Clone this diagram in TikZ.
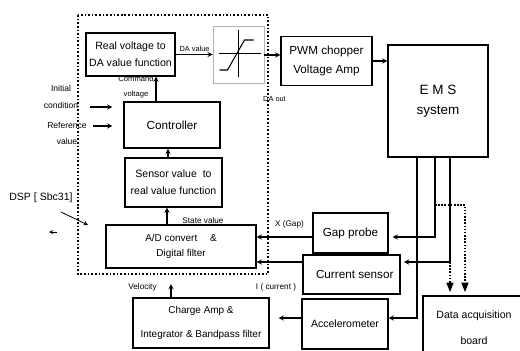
\documentclass[tikz,border=0pt]{standalone}
\usepackage{fontspec}
\setmainfont{Liberation Sans}
\usetikzlibrary{arrows.meta}

\begin{document}
\begin{tikzpicture}[
      x=0.03cm,
      y=-0.03cm,
      >=stealth,
      every node/.style={font=\fontsize{9}{14.5}\selectfont},
      blk/.style={draw, line width=1.1pt, align=center, inner sep=0pt},
      lbl/.style={font=\fontsize{7}{12}\selectfont, inner sep=0pt, align=center},
      link/.style={->, line width=1pt},
      dspline/.style={line width=1.6pt, dash pattern=on 1.4pt off 1.7pt},
      tap/.style={line width=1.1pt, dash pattern=on 1.3pt off 1.4pt,
                  -{Triangle[width=6pt,length=8pt]}, shorten >=0.1cm}
    ]

    % --- 0. 画面の範囲 (520 x 350 px, 1 px = 0.03 cm) ---
    \useasboundingbox (0,0) rectangle (520,350);
    \clip (0,0) rectangle (520,350);

    % EMS から下へ出る線の x 位置
    \def\xAcc{417}
    \def\xGap{435}
    \def\xCur{450}

    % --- 1. DSP 内部のブロック ---
    \node[blk, minimum width=2.67cm, minimum height=1.29cm] (rv) at (130.5,54.5) {Real voltage to\\DA value function};
    \node[draw=gray!60, line width=0.5pt, minimum width=1.53cm, minimum height=1.71cm, inner sep=0pt] (sat) at (238.5,55) {};
    \node[blk, minimum width=2.88cm, minimum height=1.38cm, font=\fontsize{10}{12}\selectfont] (ctrl) at (172,125) {Controller};
    \node[blk, minimum width=2.91cm, minimum height=1.47cm] (sens) at (173.5,182.5) {Sensor value\ \ to\\real value function};
    \node[blk, minimum width=4.5cm, minimum height=1.29cm, font=\fontsize{8.5}{13.5}\selectfont] (adc) at (181,246.5)
      {A/D convert\quad\ \&\\Digital filter};

    % 飽和特性 (DA)
    \begin{scope}[shift={(sat.center)}]
      \draw[line width=0.8pt] (-20,-2) -- (22,-2);
      \draw[line width=0.5pt] (-0.5,-25) -- (-0.5,22);
      \draw[line width=0.9pt] (-19,15) -- (-11,15) -- (6,-15) -- (15,-15);
    \end{scope}

    % DSP の境界
    \draw[dspline] (78,15) rectangle (268,274);
    \node[font=\fontsize{9}{11}\selectfont] (dsp) at (41,198) {DSP [ Sbc31]};

    % --- 2. 外部のブロック ---
    \node[blk, minimum width=2.73cm, minimum height=1.47cm, font=\fontsize{10}{17}\selectfont] (pwm) at (326.5,61) {PWM chopper\\Voltage Amp};
    \node[blk, minimum width=3cm, minimum height=3.36cm, font=\fontsize{11.5}{17}\selectfont] (ems) at (438,101) {E M S\\system};
    \node[blk, minimum width=2.25cm, minimum height=1.2cm, font=\fontsize{10}{12}\selectfont] (gap) at (350.5,233) {Gap probe};
    \node[blk, minimum width=2.91cm, minimum height=1.17cm, font=\fontsize{10}{12}\selectfont] (cur) at (351.5,274.5) {\ \ Current sensor};
    \node[blk, minimum width=2.58cm, minimum height=1.5cm] (acc) at (345,324) {Accelerometer};
    \node[blk, minimum width=4.08cm, minimum height=1.5cm, font=\fontsize{8.5}{20}\selectfont] (cha) at (201,323)
      {Charge Amp \&\\Integrator \& Bandpass filter};
    \node[blk, minimum width=3.06cm, minimum height=1.92cm, font=\fontsize{9}{22}\selectfont] (daq) at (474,328) {Data acquisition\\board};

    % --- 3. 信号名 ---
    \node[lbl, font=\fontsize{6.3}{12}\selectfont] (daval) at (194.5,49) {DA value};
    \node[lbl, font=\fontsize{6.5}{12}\selectfont] (cmdv) at (136,87) {Command\\voltage};
    \node[lbl, font=\fontsize{7.3}{14.5}\selectfont] (init) at (61,96.5) {Initial\\condition};
    \node[lbl, font=\fontsize{7.3}{13}\selectfont] (refv) at (67,133.5) {Reference\\value};
    \node[lbl] (state) at (203,221) {State value};
    \node[lbl] (xgap) at (289.5,224) {X (Gap)};
    \node[lbl] (icur) at (276,287) {I ( current )};
    \node[lbl] (velo) at (142.5,287) {Velocity};
    \node[lbl, font=\fontsize{6.3}{12}\selectfont] (daout) at (274.5,99) {DA out};

    % --- 4. 矢印 ---
    \coordinate (cmdx) at (156,0);
    \coordinate (sensx) at (168,0);
    \coordinate (adcx) at (167,0);
    \coordinate (ygap) at (0,237);
    \coordinate (ycur) at (0,262);
    \coordinate (yacc) at (0,318);
    \coordinate (vtip) at (171,284);
    \coordinate (ic0) at (90,107);
    \coordinate (rf0) at (93,126);
    \coordinate (dspTail) at (61,212);
    \coordinate (dspTip) at (88,225);
    \coordinate (markA) at (57,232);
    \coordinate (markB) at (49,232);

    \draw[link] (rv.east) -- (rv.east -| sat.west);
    \draw[link] (sat.east) -- (sat.east -| pwm.west);
    \draw[link] (pwm.east) -- (pwm.east -| ems.west);
    \draw[link] (ctrl.north -| cmdx) -- (rv.south -| cmdx);
    \draw[link] (sens.north -| sensx) -- (ctrl.south -| sensx);
    \draw[link] (adc.north -| adcx) -- (sens.south -| adcx);
    \draw[link, shorten >=0.33cm] (ic0) -- (ctrl.west |- ic0);
    \draw[link, shorten >=0.33cm] (rf0) -- (ctrl.west |- rf0);
    \draw[link, line width=0.7pt] (dspTail) -- (dspTip);
    \draw[->, line width=0.6pt] (markA) -- (markB);

    \draw[link] (gap.west |- ygap) -- (adc.east |- ygap);
    \draw[link] (cur.west |- ycur) -- (adc.east |- ycur);
    \draw[link, shorten >=0.27cm] (acc.west |- yacc) -- (cha.east |- yacc);
    \draw[link] (cha.north -| vtip) -- (vtip);

    % EMS からの計測線
    \coordinate (ta) at (\xAcc,0);
    \coordinate (tg) at (\xGap,0);
    \coordinate (tc) at (\xCur,0);
    \coordinate (dq) at (465,205);
    \draw[link] (ems.south -| ta) |- (acc.east |- yacc);
    \draw[link, shorten >=0.12cm] (ems.south -| tg) |- (gap.east |- ygap);
    \draw[link, shorten >=0.1cm] (ems.south -| tc) |- (cur.east |- ycur);

    % データ収集ボードへ (点線)
    \draw[tap] (tg |- dq) -| (daq.north -| dq);
    \draw[tap] (tc |- ycur) -- (daq.north -| tc);

  \end{tikzpicture}
\end{document}
